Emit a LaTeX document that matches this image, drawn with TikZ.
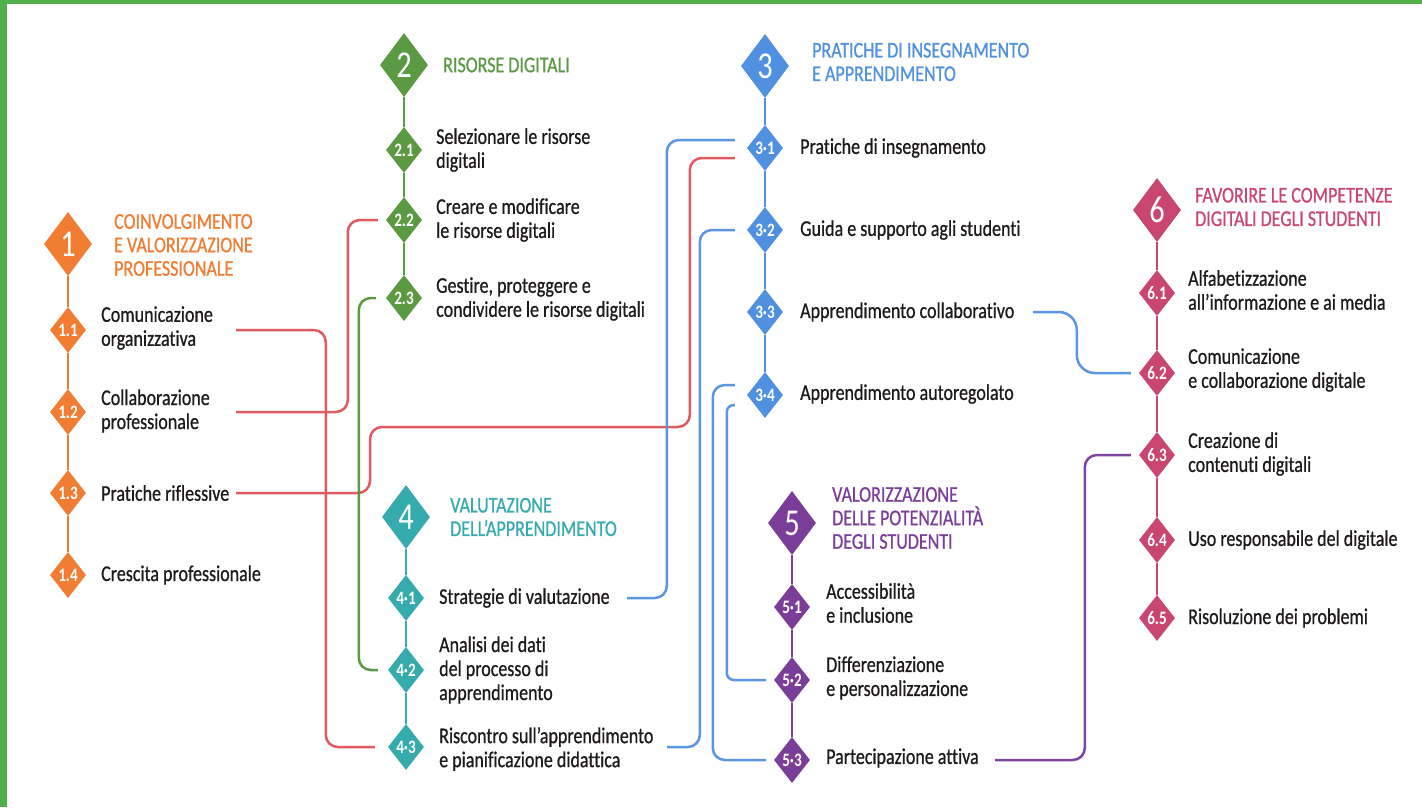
\documentclass[tikz,border=0pt]{standalone}
\usepackage{fontspec}
\setmainfont{Carlito}[FakeStretch=0.8,Ligatures=NoCommon]
\newfontfamily\textfam{Carlito}[FakeStretch=0.8,FakeBold=0.7,Ligatures=NoCommon]
\usetikzlibrary{shapes.geometric}

\definecolor{frame}{HTML}{4FB04A}
\definecolor{ink}{HTML}{1E1A1B}
\definecolor{cOrange}{HTML}{F17D33}
\definecolor{cGreen}{HTML}{5B9A43}
\definecolor{cBlue}{HTML}{4F90E0}
\definecolor{cTeal}{HTML}{36ABAD}
\definecolor{cPurple}{HTML}{7B3E98}
\definecolor{cRose}{HTML}{C84670}
\definecolor{lnRed}{HTML}{E05A5E}
\definecolor{lnBlue}{HTML}{5A96E2}
\definecolor{lnGreen}{HTML}{5A9A45}
\definecolor{lnPurple}{HTML}{7E45A0}

\begin{document}
\begin{tikzpicture}[x=1pt,y=-1pt,
  bigd/.style={diamond, fill=#1, inner sep=0pt, minimum width=48pt, minimum height=64pt,
    text=white, font=\fontsize{38}{38}\selectfont},
  smalld/.style={diamond, fill=#1, inner sep=0pt, minimum width=36pt, minimum height=46pt,
    text=white, font=\bfseries\fontsize{19}{19}\selectfont},
  title/.style={anchor=west, inner sep=0pt, align=left, text=#1,
    font=\textfam\fontsize{22.5}{23.5}\selectfont},
  lbl/.style={anchor=west, inner sep=0pt, align=left, text=ink,
    font=\textfam\fontsize{22.5}{24}\selectfont},
  spine/.style={draw=#1, line width=2.8pt},
  link/.style={draw=#1, line width=2.5pt, rounded corners=12pt},
]
\useasboundingbox (0,0) rectangle (1422,807);
\fill[white] (0,0) rectangle (1422,807);
\fill[frame] (0,0) rectangle (1422,4);
\fill[frame] (0,0) rectangle (7,807);

% ---- 1: coinvolgimento e valorizzazione professionale
\node[bigd=cOrange] (D1) at (68,244) {1};
\node[smalld=cOrange] (d11) at (68,330) {1.1};
\node[smalld=cOrange] (d12) at (68,412) {1.2};
\node[smalld=cOrange] (d13) at (68,493) {1.3};
\node[smalld=cOrange] (d14) at (68,575) {1.4};
\draw[spine=cOrange] (D1) -- (d11) -- (d12) -- (d13) -- (d14);
\node[title=cOrange] (t1) at (114,245) {COINVOLGIMENTO\\E VALORIZZAZIONE\\PROFESSIONALE};
\node[lbl] (l11) at (101,328) {Comunicazione\\organizzativa};
\node[lbl] (l12) at (101,411) {Collaborazione\\professionale};
\node[lbl] (l13) at (101,493) {Pratiche riflessive};
\node[lbl] (l14) at (101,575) {Crescita professionale};

% ---- 2: risorse digitali
\node[bigd=cGreen] (D2) at (404,65) {2};
\node[smalld=cGreen] (d21) at (404,150) {2.1};
\node[smalld=cGreen] (d22) at (404,220) {2.2};
\node[smalld=cGreen] (d23) at (404,298) {2.3};
\draw[spine=cGreen] (D2) -- (d21) -- (d22) -- (d23);
\node[title=cGreen] (t2) at (443,65) {RISORSE DIGITALI};
\node[lbl] (l21) at (436,150) {Selezionare le risorse\\digitali};
\node[lbl] (l22) at (436,220) {Creare e modificare\\le risorse digitali};
\node[lbl] (l23) at (436,299) {Gestire, proteggere e\\condividere le risorse digitali};

% ---- 3: pratiche di insegnamento e apprendimento
\node[bigd=cBlue] (D3) at (765,66) {3};
\node[smalld=cBlue] (d31) at (765,148) {3·1};
\node[smalld=cBlue] (d32) at (765,230) {3·2};
\node[smalld=cBlue] (d33) at (765,312) {3·3};
\node[smalld=cBlue] (d34) at (765,395) {3·4};
\draw[spine=cBlue] (D3) -- (d31) -- (d32) -- (d33) -- (d34);
\node[title=cBlue] (t3) at (812,62) {PRATICHE DI INSEGNAMENTO\\E APPRENDIMENTO};
\node[lbl] (l31) at (800,148) {Pratiche di insegnamento};
\node[lbl] (l32) at (800,230) {Guida e supporto agli studenti};
\node[lbl] (l33) at (800,312) {Apprendimento collaborativo};
\node[lbl] (l34) at (800,394) {Apprendimento autoregolato};

% ---- 4: valutazione dell'apprendimento
\node[bigd=cTeal] (D4) at (406,517) {4};
\node[smalld=cTeal] (d41) at (406,598) {4·1};
\node[smalld=cTeal] (d42) at (406,670) {4·2};
\node[smalld=cTeal] (d43) at (406,747) {4·3};
\draw[spine=cTeal] (D4) -- (d41) -- (d42) -- (d43);
\node[title=cTeal] (t4) at (450,517) {VALUTAZIONE\\DELL’APPRENDIMENTO};
\node[lbl] (l41) at (439,598) {Strategie di valutazione};
\node[lbl] (l42) at (439,670) {Analisi dei dati\\del processo di\\apprendimento};
\node[lbl] (l43) at (439,749) {Riscontro sull’apprendimento\\e pianificazione didattica};

% ---- 5: valorizzazione delle potenzialità degli studenti
\node[bigd=cPurple] (D5) at (792,523) {5};
\node[smalld=cPurple] (d51) at (792,607) {5·1};
\node[smalld=cPurple] (d52) at (792,680) {5·2};
\node[smalld=cPurple] (d53) at (792,760) {5·3};
\draw[spine=cPurple] (D5) -- (d51) -- (d52) -- (d53);
\node[title=cPurple] (t5) at (832,518) {VALORIZZAZIONE\\DELLE POTENZIALITÀ\\DEGLI STUDENTI};
\node[lbl] (l51) at (826,603) {Accessibilità\\e inclusione};
\node[lbl] (l52) at (826,678) {Differenziazione\\e personalizzazione};
\node[lbl] (l53) at (826,758) {Partecipazione attiva};

% ---- 6: favorire le competenze digitali degli studenti
\node[bigd=cRose] (D6) at (1157,210) {6};
\node[smalld=cRose] (d61) at (1157,293) {6.1};
\node[smalld=cRose] (d62) at (1157,373) {6.2};
\node[smalld=cRose] (d63) at (1157,455) {6.3};
\node[smalld=cRose] (d64) at (1157,540) {6.4};
\node[smalld=cRose] (d65) at (1157,618) {6.5};
\draw[spine=cRose] (D6) -- (d61) -- (d62) -- (d63) -- (d64) -- (d65);
\node[title=cRose] (t6) at (1195,207) {FAVORIRE LE COMPETENZE\\DIGITALI DEGLI STUDENTI};
\node[lbl] (l61) at (1188,290) {Alfabetizzazione\\all’informazione e ai media};
\node[lbl] (l62) at (1188,370) {Comunicazione\\e collaborazione digitale};
\node[lbl] (l63) at (1188,454) {Creazione di\\contenuti digitali};
\node[lbl] (l64) at (1188,540) {Uso responsabile del digitale};
\node[lbl] (l65) at (1188,618) {Risoluzione dei problemi};

% ---- cross links
% 1.1 -> 4.3
\draw[link=lnRed] ([xshift=168pt]d11.center) -| ([xshift=-62pt]d43.west) -- ([xshift=-13pt]d43.west);
% 1.2 -> 2.2
\draw[link=lnRed] ([xshift=168pt]d12.center) -| ([xshift=-38pt]d22.west) -- ([xshift=-8pt]d22.west);
% 1.3 -> 3.1
\draw[link=lnRed] ([xshift=168pt]d13.center) -| (370,427)
  -| ([xshift=-57pt,yshift=-10pt]d31.west) -- ([xshift=-12pt,yshift=-10pt]d31.west);
% 2.3 -> 4.2
\draw[link=lnGreen] ([xshift=-10pt]d23.west) -| ([xshift=-29pt]d42.west) -- ([xshift=-10pt]d42.west);
% 4.1 -> 3.1
\draw[link=lnBlue] ([xshift=221pt]d41.center) -| ([xshift=-80pt,yshift=8pt]d31.west)
  -- ([xshift=-12pt,yshift=8pt]d31.west);
% 4.3 -> 3.2
\draw[link=lnBlue] ([xshift=261pt]d43.center) -| ([xshift=-47pt]d32.west) -- ([xshift=-12pt]d32.west);
% 3.4 -> 5.3
\draw[link=lnBlue] ([xshift=-12pt,yshift=10pt]d34.west) -| ([xshift=-61pt]d53.west) -- ([xshift=-8pt]d53.west);
% 3.4 -> 5.2
\draw[link=lnBlue, rounded corners=7pt] ([xshift=-12pt,yshift=-10pt]d34.west) -| ([xshift=-47pt]d52.west)
  -- ([xshift=-8pt]d52.west);
% 3.3 -> 6.2
\draw[link=lnBlue, rounded corners=18pt] ([xshift=268pt]d33.center) -| ([xshift=-62pt]d62.west)
  -- ([xshift=-8pt]d62.west);
% 5.3 -> 6.3
\draw[link=lnPurple] ([xshift=203pt]d53.center) -| ([xshift=-54pt]d63.west) -- ([xshift=-8pt]d63.west);
\end{tikzpicture}
\end{document}
